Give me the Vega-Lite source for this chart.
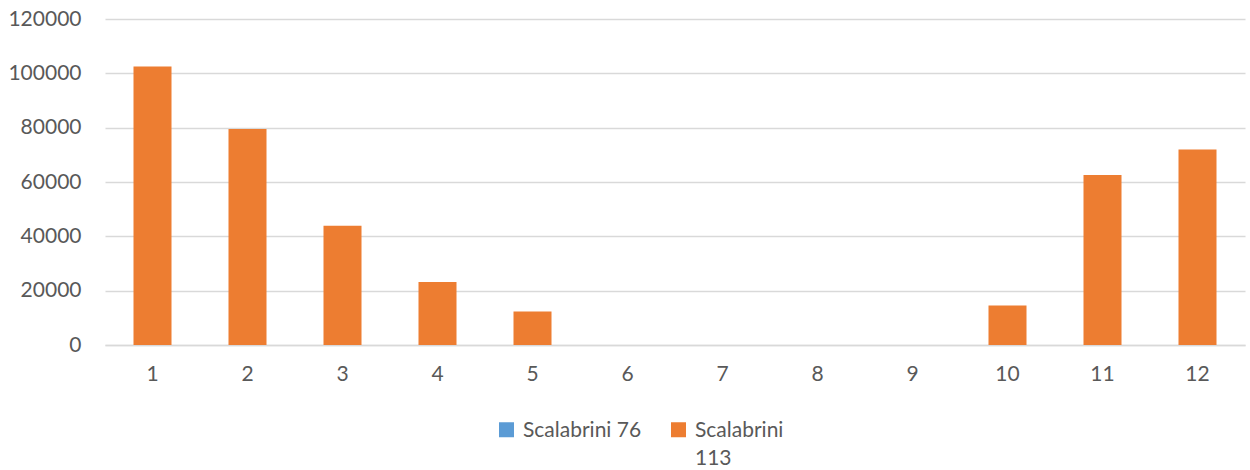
{
  "$schema": "https://vega.github.io/schema/vega-lite/v6.json",
  "width": 1140,
  "height": 326,
  "autosize": {"type": "none"},
  "padding": {"left": 105, "top": 19, "right": 5, "bottom": 125},
  "background": "white",
  "config": {
    "view": {"stroke": null},
    "font": "Lato",
    "axis": {"labelFont": "Lato", "labelFontSize": 21, "labelColor": "#595959", "ticks": false, "title": null}
  },
  "data": {
    "values": [
      {"month": "1", "series": "Scalabrini 113", "value": 102500},
      {"month": "2", "series": "Scalabrini 113", "value": 79500},
      {"month": "3", "series": "Scalabrini 113", "value": 43900},
      {"month": "4", "series": "Scalabrini 113", "value": 23200},
      {"month": "5", "series": "Scalabrini 113", "value": 12300},
      {"month": "6", "series": "Scalabrini 113", "value": 0},
      {"month": "7", "series": "Scalabrini 113", "value": 0},
      {"month": "8", "series": "Scalabrini 113", "value": 0},
      {"month": "9", "series": "Scalabrini 113", "value": 0},
      {"month": "10", "series": "Scalabrini 113", "value": 14500},
      {"month": "11", "series": "Scalabrini 113", "value": 62600},
      {"month": "12", "series": "Scalabrini 113", "value": 72000}
    ]
  },
  "mark": {"type": "bar"},
  "encoding": {
    "x": {
      "field": "month", "type": "ordinal", "sort": null,
      "scale": {"paddingInner": 0.6, "paddingOuter": 0.3},
      "axis": {"labelAngle": 0, "labelPadding": 18, "domainColor": "#d9d9d9", "domainWidth": 1.5, "grid": false}
    },
    "y": {
      "field": "value", "type": "quantitative",
      "scale": {"domain": [0, 120000]},
      "axis": {"values": [0, 20000, 40000, 60000, 80000, 100000, 120000], "format": "d", "domain": false, "labelPadding": 24, "gridColor": "#d9d9d9", "gridWidth": 1.5}
    },
    "color": {
      "field": "series", "type": "nominal",
      "scale": {"domain": ["Scalabrini 76", "Scalabrini 113"], "range": ["#5b9bd5", "#ed7d31"]},
      "legend": {
        "title": null, "orient": "none", "direction": "horizontal",
        "legendX": 391, "legendY": 400,
        "symbolType": "square", "symbolSize": 225, "symbolStrokeWidth": 0,
        "labelFont": "Lato", "labelFontSize": 21, "labelColor": "#595959",
        "labelOffset": 6, "columnPadding": 26, "labelBaseline": "alphabetic",
        "labelExpr": "datum.label == 'Scalabrini 113' ? ['Scalabrini', '113'] : [datum.label, ' ']",
        "encode": {"labels": {"update": {"dy": {"value": 7}, "lineHeight": {"value": 28}}}}
      }
    }
  }
}
